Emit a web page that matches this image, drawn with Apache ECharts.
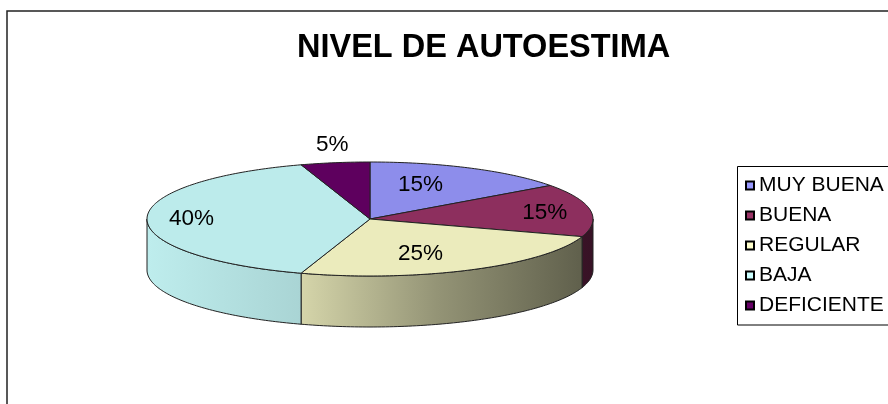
<!DOCTYPE html>
<html>
<head>
<meta charset="utf-8">
<script src="https://cdn.jsdelivr.net/npm/echarts@6/dist/echarts.min.js"></script>
<style>
html, body { margin: 0; padding: 0; background: #fff; }
#main { width: 888px; height: 404px; }
</style>
</head>
<body>
<div id="main"></div>
<script>
var categories = ['MUY BUENA', 'BUENA', 'REGULAR', 'BAJA', 'DEFICIENTE'];
var values = [15, 15, 25, 40, 5];
var colors = ['#9999FF', '#993366', '#FFFFCC', '#CCFFFF', '#660066'];

// tilted pie layout, px
var cx = 370, cy = 219, rx = 223, ry = 57, depth = 51;
var fontFam = '"Liberation Sans", Arial, sans-serif';

var total = values.reduce(function (a, b) { return a + b; }, 0);
var starts = [];
var acc = 0;
for (var i = 0; i < values.length; i++) {
    starts.push(acc / total * 360);
    acc += values[i];
}

function shade(hex, f) {
    var n = parseInt(hex.slice(1), 16);
    var r = Math.round(((n >> 16) & 255) * f);
    var g = Math.round(((n >> 8) & 255) * f);
    var b = Math.round((n & 255) * f);
    return 'rgb(' + r + ',' + g + ',' + b + ')';
}

// lighter on the left, darker on the right
function sideFill(hex) {
    return new echarts.graphic.LinearGradient(cx - rx, 0, cx + rx, 0, [
        { offset: 0, color: shade(hex, 0.93) },
        { offset: 0.35, color: shade(hex, 0.83) },
        { offset: 0.65, color: shade(hex, 0.58) },
        { offset: 1, color: shade(hex, 0.36) }
    ], true);
}

function pt(deg, dy) {
    var r = deg * Math.PI / 180;
    return [cx + rx * Math.sin(r), cy - ry * Math.cos(r) + (dy || 0)];
}

function arc(a0, a1, dy) {
    var pts = [];
    var n = Math.max(2, Math.ceil(a1 - a0));
    for (var k = 0; k <= n; k++) {
        pts.push(pt(a0 + (a1 - a0) * k / n, dy));
    }
    return pts;
}

function sliceRenderer(idx) {
    return function (params, api) {
        var v = api.value(0);
        var a0 = starts[idx];
        var a1 = a0 + v / total * 360;
        var children = [];

        // front wall
        var s0 = Math.max(a0, 90), s1 = Math.min(a1, 270);
        if (s1 > s0) {
            var top = arc(s0, s1, 0);
            var bot = arc(s0, s1, depth).reverse();
            children.push({
                type: 'polygon',
                shape: { points: top.concat(bot) },
                style: { fill: sideFill(colors[idx]), stroke: '#222', lineWidth: 1 }
            });
        }

        // top face
        children.push({
            type: 'polygon',
            shape: { points: [[cx, cy]].concat(arc(a0, a1, 0)) },
            style: { fill: shade(colors[idx], 0.92), stroke: '#222', lineWidth: 1 }
        });

        // percent label
        var mid = (a0 + a1) / 2 * Math.PI / 180;
        var sn = Math.sin(mid), cs = Math.cos(mid);
        var lx, ly;
        if (v / total < 0.1) {
            lx = cx + (rx + 18) * sn;
            ly = cy - (ry + 18) * cs;
        } else {
            lx = cx + rx * sn * (0.25 + 0.55 * Math.abs(sn));
            ly = cy - ry * cs * 0.68;
        }
        children.push({
            type: 'text',
            z2: 10,
            style: {
                text: Math.round(v / total * 100) + '%',
                x: lx,
                y: ly,
                fill: '#000',
                fontSize: 22.5,
                fontFamily: fontFam,
                align: 'center',
                verticalAlign: 'middle'
            }
        });

        return { type: 'group', children: children };
    };
}

var series = [];
for (var j = 0; j < categories.length; j++) {
    series.push({
        type: 'custom',
        name: categories[j],
        coordinateSystem: 'none',
        color: colors[j],
        itemStyle: { color: colors[j] },
        silent: true,
        data: [[values[j]]],
        renderItem: sliceRenderer(j)
    });
}

var chart = echarts.init(document.getElementById('main'));
chart.setOption({
    animation: false,
    backgroundColor: '#fff',
    title: {
        text: 'NIVEL DE AUTOESTIMA',
        left: 297,
        top: 32,
        padding: 0,
        textStyle: {
            fontSize: 32.5,
            fontWeight: 'bold',
            fontFamily: fontFam,
            color: '#000'
        }
    },
    legend: {
        data: categories,
        orient: 'vertical',
        left: 737,
        top: 166,
        padding: [9, 0, 10, 8],
        itemGap: 9,
        itemWidth: 8,
        itemHeight: 8,
        icon: 'rect',
        selectedMode: false,
        itemStyle: { borderColor: '#000', borderWidth: 2 },
        textStyle: {
            fontSize: 21,
            lineHeight: 20,
            fontFamily: fontFam,
            color: '#000'
        }
    },
    graphic: [{
        // chart area frame
        type: 'rect',
        silent: true,
        z: -10,
        shape: { x: 7, y: 11, width: 1000, height: 600 },
        style: { fill: 'none', stroke: '#222', lineWidth: 1.5 }
    }, {
        // legend frame, runs off the right edge like the original
        type: 'rect',
        silent: true,
        z: -5,
        shape: { x: 737.5, y: 166.5, width: 300, height: 158.5 },
        style: { fill: 'none', stroke: '#000', lineWidth: 1 }
    }],
    series: series
});
</script>
</body>
</html>
